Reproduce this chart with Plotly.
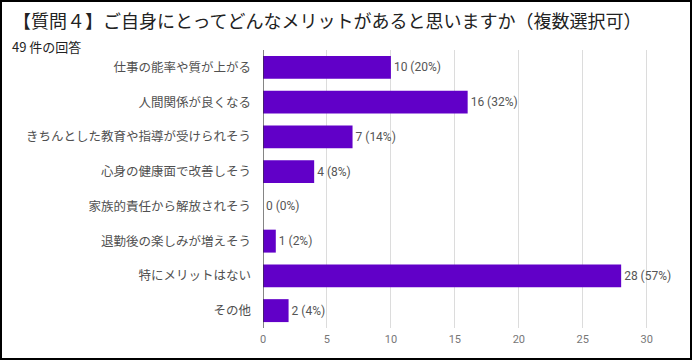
import plotly.graph_objects as go

categories = [
    "仕事の能率や質が上がる",
    "人間関係が良くなる",
    "きちんとした教育や指導が受けられそう",
    "心身の健康面で改善しそう",
    "家族的責任から解放されそう",
    "退勤後の楽しみが増えそう",
    "特にメリットはない",
    "その他",
]
counts = [10, 16, 7, 4, 0, 1, 28, 2]
percents = [20, 32, 14, 8, 0, 2, 57, 4]
x_ticks = [0, 5, 10, 15, 20, 25, 30]

title_text = "【質問４】ご自身にとってどんなメリットがあると思いますか（複数選択可）"
subtitle_text = "49 件の回答"

labels = [f"{c} ({p}%)" for c, p in zip(counts, percents)]

W, H = 692, 360
ML, MR, MT, MB = 263, 12, 50, 32
pw = W - ML - MR
ph = H - MT - MB


def px_x(px):
    return (px - ML) / pw


def px_y(py):
    return (H - MB - py) / ph


fig = go.Figure(go.Bar(
    x=counts, y=categories, orientation="h",
    marker=dict(color="#6100c8", line=dict(width=0)),
    width=0.66,
    text=labels, textposition="outside", cliponaxis=False,
    textfont=dict(family="Roboto, Arial, sans-serif", size=12, color="#555"),
    hoverinfo="skip",
))

fig.update_layout(
    width=W, height=H,
    margin=dict(l=ML, r=MR, t=MT, b=MB, autoexpand=False),
    paper_bgcolor="white", plot_bgcolor="white",
    showlegend=False,
    font=dict(family="Noto Sans CJK JP, sans-serif", color="#444"),
    xaxis=dict(
        range=[0, 32.6], tickvals=x_ticks, showgrid=True, gridcolor="#dcdcdc",
        gridwidth=1, zeroline=False, showline=False, automargin=False,
        tickfont=dict(family="Roboto, Arial, sans-serif", size=11, color="#777"),
        ticks="", ticklen=0, ticklabelstandoff=3,
    ),
    yaxis=dict(
        autorange="reversed", showgrid=False, zeroline=False, automargin=False,
        showline=False, ticks="",
        tickfont=dict(family="Noto Sans CJK JP, sans-serif", size=12.5, color="#505050"),
        ticklabelstandoff=11,
    ),
    shapes=[
        dict(type="line", xref="x", yref="paper", x0=0, x1=0, y0=0, y1=1,
             line=dict(color="#333", width=1.2)),
        dict(type="rect", xref="paper", yref="paper",
             x0=px_x(1), x1=px_x(W - 1),
             y0=px_y(H - 1), y1=px_y(1),
             line=dict(color="black", width=2), fillcolor="rgba(0,0,0,0)"),
    ],
    annotations=[
        dict(text=title_text, xref="paper", yref="paper",
             x=px_x(11), y=px_y(20), xanchor="left", yanchor="middle",
             showarrow=False,
             font=dict(family="Noto Sans CJK JP, sans-serif", size=18, color="#222")),
        dict(text=subtitle_text, xref="paper", yref="paper",
             x=px_x(10), y=px_y(46), xanchor="left", yanchor="middle",
             showarrow=False,
             font=dict(family="Noto Sans CJK JP, sans-serif", size=13, color="#222")),
    ],
)

fig.write_html(
    "out.html",
    config={"displayModeBar": False},
    post_script="document.body.style.margin='0';document.body.style.overflow='hidden';",
)
